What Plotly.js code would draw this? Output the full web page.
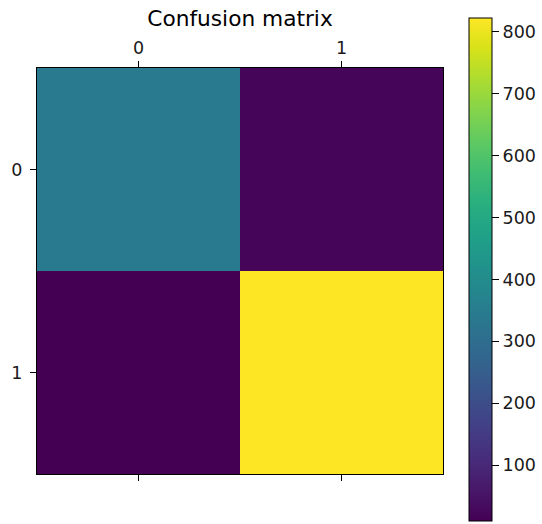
<!DOCTYPE html>
<html>
<head>
<meta charset="utf-8">
<script src="https://cdn.plot.ly/plotly-3.0.1.min.js"></script>
<style>html,body{margin:0;padding:0;background:#fff;}#chart{width:542px;height:524px;}</style>
</head>
<body>
<div id="chart"></div>
<script>
const xLabels = ['0', '1'];
const yLabels = ['0', '1'];
const xValues = [0, 1];
const yValues = [0, 1];
const row0 = [340, 22];
const row1 = [10, 822];
const zMatrix = [row0, row1];
const colorTicks = [100, 200, 300, 400, 500, 600, 700, 800];

const font = {family: 'DejaVu Sans', size: 17.5, color: '#1a1a1a'};

const trace = {
  type: 'heatmap',
  x: xValues,
  y: yValues,
  z: zMatrix,
  colorscale: 'Viridis',
  zmin: 10,
  zmax: 822,
  hoverinfo: 'none',
  colorbar: {
    thickness: 23,
    thicknessmode: 'pixels',
    len: 503,
    lenmode: 'pixels',
    x: 1.064,
    xanchor: 'left',
    y: 0.5037,
    yanchor: 'middle',
    outlinewidth: 1,
    outlinecolor: '#000',
    ticks: 'outside',
    ticklen: 7,
    tickwidth: 1,
    tickcolor: '#000',
    tickvals: colorTicks,
    tickfont: font,
    xpad: 0,
    ypad: 0
  }
};

const layout = {
  width: 542,
  height: 524,
  margin: {l: 37, r: 99, t: 68, b: 50, autoexpand: false},
  paper_bgcolor: '#fff',
  plot_bgcolor: '#fff',
  font: font,
  title: {
    text: 'Confusion matrix',
    font: {family: 'DejaVu Sans', size: 21.7, color: '#000'},
    x: 0.5, xref: 'paper', xanchor: 'center',
    y: 1 - 18/524, yref: 'container', yanchor: 'middle'
  },
  xaxis: {
    side: 'top',
    range: [-0.5, 1.5],
    tickvals: xValues,
    ticktext: xLabels,
    ticks: 'outside',
    ticklen: 6,
    tickcolor: '#000',
    showline: true,
    mirror: 'ticks',
    linecolor: '#000',
    linewidth: 1,
    showgrid: false,
    zeroline: false,
    tickfont: font,
    automargin: false,
    fixedrange: true
  },
  yaxis: {
    range: [1.5, -0.5],
    tickvals: yValues,
    ticktext: yLabels,
    ticks: 'outside',
    ticklen: 6,
    tickcolor: '#000',
    showline: true,
    mirror: true,
    linecolor: '#000',
    linewidth: 1,
    showgrid: false,
    zeroline: false,
    tickfont: font,
    ticklabelstandoff: 4,
    automargin: false,
    fixedrange: true
  }
};

Plotly.newPlot('chart', [trace], layout, {displayModeBar: false, staticPlot: true});
</script>
</body>
</html>
